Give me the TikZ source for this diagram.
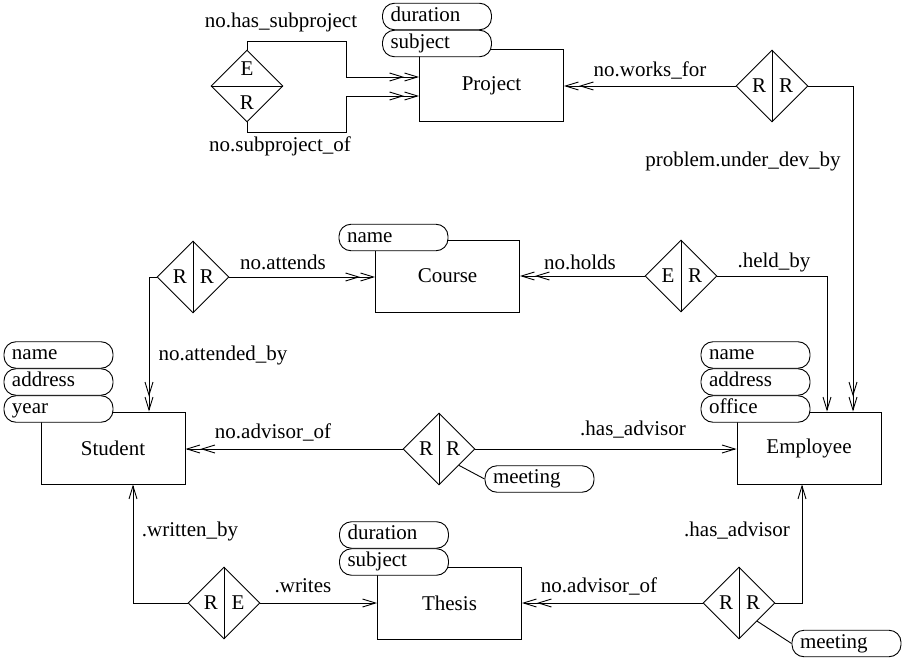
\documentclass[tikz,border=0pt]{standalone}
\usepackage{fontspec}
\setmainfont{Liberation Serif}
\newfontfamily\erfont{Liberation Serif}
\usetikzlibrary{arrows.meta,shapes.geometric,calc}
\begin{document}
\begin{tikzpicture}[x=1pt,y=-1pt,line width=0.9pt,
  every node/.style={font=\erfont\fontsize{21}{24}\selectfont, inner sep=0pt},
  ent/.style={draw, rectangle, minimum width=144pt, minimum height=72pt},
  attr/.style={draw, fill=white, rounded corners=12pt, minimum height=26.5pt,
    text width=93pt, inner xsep=8pt, align=left, text height=14pt, text depth=4.5pt},
  rel/.style={draw, diamond, minimum width=72pt, minimum height=72pt},
  lbl/.style={},
  one/.style={-{Straight Barb[length=13pt,width=8pt]}},
  two/.style={-{Straight Barb[length=13pt,width=8pt]Straight Barb[length=13pt,width=8pt]}}]
\useasboundingbox (0,0) rectangle (902,658);

% entities
\node[ent] (proj) at (491.5,85.5) {Project};
\node[ent] (course) at (447.5,276) {Course};
\node[ent] (stud) at (113,448) {Student};
\node[ent] (emp) at (809,448) {Employee};
\node[ent] (thesis) at (449.5,603.5) {Thesis};

% attributes
\node[attr] (pdur) at (437,16.5) {duration};
\node[attr] (psub) at (437,43.5) {subject};
\node[attr] (cname) at (393.5,237.5) {name};
\node[attr] (sname) at (58.5,355) {name};
\node[attr] (saddr) at (58.5,382) {address};
\node[attr] (syear) at (58.5,409) {year};
\node[attr] (ename) at (755.5,355) {name};
\node[attr] (eaddr) at (755.5,382) {address};
\node[attr] (eoff) at (755.5,409) {office};
\node[attr] (tdur) at (394,535) {duration};
\node[attr] (tsub) at (394,562) {subject};
\node[attr] (meet1) at (539.5,479) {meeting};
\node[attr] (meet2) at (846.5,643.5) {meeting};

% relationships
\node[rel] (dsub) at (247,86) {};
\draw (dsub.west) -- (dsub.east);
\node (dsubE) at (247,69) {E};
\node (dsubR) at (247,103) {R};

\node[rel] (dwork) at (772,86) {};
\draw (dwork.north) -- (dwork.south);
\node (dworkL) at (759,86) {R};
\node (dworkR) at (786,86) {R};

\node[rel] (dcourse) at (681,276) {};
\draw (dcourse.north) -- (dcourse.south);
\node (dcourseL) at (668,276) {E};
\node (dcourseR) at (695,276) {R};

\node[rel] (dattend) at (193,277) {};
\draw (dattend.north) -- (dattend.south);
\node (dattendL) at (180,277) {R};
\node (dattendR) at (207,277) {R};

\node[rel] (dadv) at (439,449) {};
\draw (dadv.north) -- (dadv.south);
\node (dadvL) at (426,449) {R};
\node (dadvR) at (453,449) {R};

\node[rel] (dwrite) at (224,603) {};
\draw (dwrite.north) -- (dwrite.south);
\node (dwriteL) at (211,603) {R};
\node (dwriteR) at (238,603) {E};

\node[rel] (dadv2) at (739,603) {};
\draw (dadv2.north) -- (dadv2.south);
\node (dadv2L) at (726,603) {R};
\node (dadv2R) at (753,603) {R};

% connectors
\draw[two] (dsub.north) |- (346,41) |- ([yshift=8.5pt]proj.west);
\draw[two] (dsub.south) |- (346,132) |- ([yshift=-10.5pt]proj.west);
\draw[two] (dwork.west) -- (dwork.west -| proj.east);
\draw[two] (dwork.east) -| ([xshift=44pt]emp.north);
\draw[two] (dcourse.west) -- (dcourse.west -| course.east);
\draw[one] (dcourse.east) -| ([xshift=18pt]emp.north);
\draw[two] (dattend.east) -- (dattend.east -| course.west);
\draw[two] (dattend.west) -| ([xshift=36pt]stud.north);
\draw[two] (dadv.west) -- (dadv.west -| stud.east);
\draw[one] (dadv.east) -- (dadv.east -| emp.west);
\draw ($(dadv.east)!0.45!(dadv.south)$) -- (meet1.west);
\draw[one] (dwrite.west) -| ([xshift=20pt]stud.south);
\draw[one] (dwrite.east) -- (dwrite.east -| thesis.west);
\draw[two] (dadv2.west) -- (dadv2.west -| thesis.east);
\draw[one] (dadv2.east) -| ([xshift=-7pt]emp.south);
\draw ($(dadv2.east)!0.5!(dadv2.south)$) -- (meet2.west);

% labels
\node[lbl] (l1) at (281,22) {no.has\_subproject};
\node[lbl] (l2) at (280,146) {no.subproject\_of};
\node[lbl] (l3) at (650,70) {no.works\_for};
\node[lbl] (l4) at (743,161) {problem.under\_dev\_by};
\node[lbl] (l5) at (580,262) {no.holds};
\node[lbl] (l6) at (774,262) {.held\_by};
\node[lbl] (l7) at (283,262) {no.attends};
\node[lbl] (l8) at (223,355) {no.attended\_by};
\node[lbl] (l9) at (273,432) {no.advisor\_of};
\node[lbl] (l10) at (633,430) {.has\_advisor};
\node[lbl] (l11) at (190,531) {.written\_by};
\node[lbl] (l12) at (303,586) {.writes};
\node[lbl] (l13) at (599,586) {no.advisor\_of};
\node[lbl] (l14) at (737,531) {.has\_advisor};
\end{tikzpicture}
\end{document}
